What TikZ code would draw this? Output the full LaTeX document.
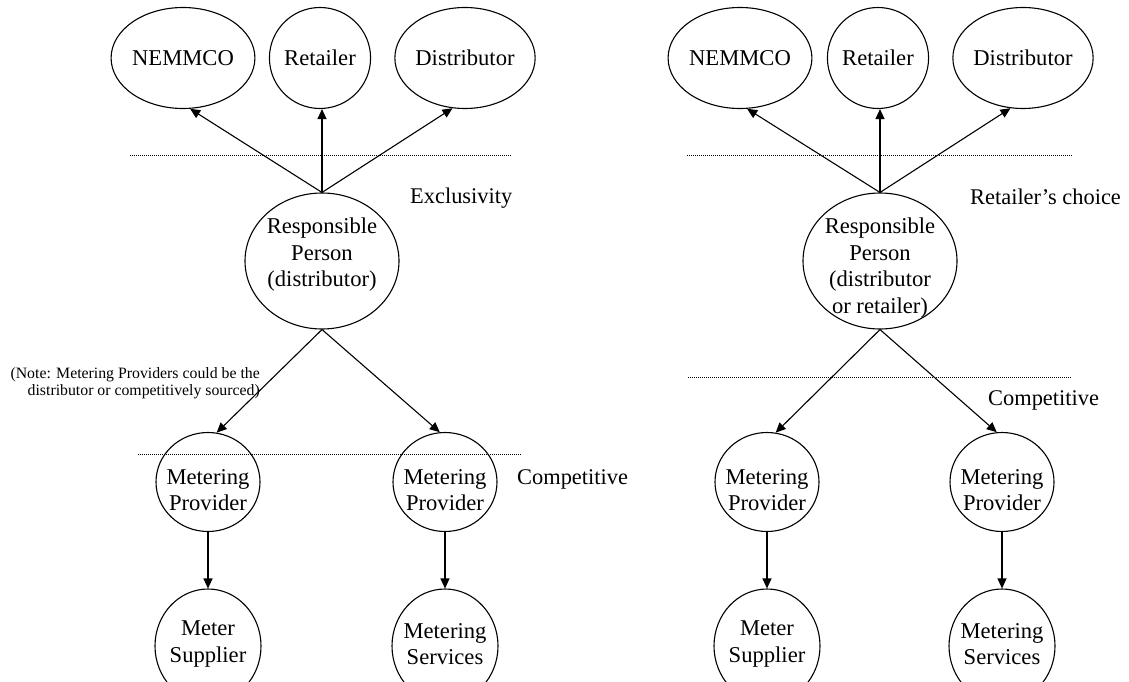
\documentclass[tikz,border=0pt]{standalone}
\usepackage{fontspec}
\setmainfont{Liberation Serif}
\usetikzlibrary{shapes.geometric,arrows.meta}
\begin{document}
\begin{tikzpicture}[x=1pt,y=-1pt,
  ell/.style={draw, ellipse, line width=1.1pt, inner sep=0pt, align=center, font=\fontsize{22.6}{26.5}\selectfont},
  topell/.style={ell, minimum width=101pt, minimum height=101pt},
  midell/.style={ell, minimum width=104pt, minimum height=99pt},
  lowell/.style={ell, minimum width=106pt, minimum height=114pt},
  rpell/.style={ell, minimum width=154pt, minimum height=136pt},
  txt/.style={inner sep=0pt, align=center, font=\fontsize{22.6}{26.5}\selectfont},
  lbl/.style={inner sep=0pt, anchor=west, font=\fontsize{22.4}{26}\selectfont},
  notetxt/.style={inner sep=0pt, anchor=east, align=right, font=\fontsize{15.8}{16.8}\selectfont},
  conn/.style={-{Triangle[length=10pt,width=9pt]}, line width=1.1pt},
  sep/.style={line width=0.9pt, dash pattern=on 1pt off 1pt},
]
\useasboundingbox (0,0) rectangle (1129,682);

% ---------- Left diagram ----------
\node[topell] (LN) at (183,58) {NEMMCO};
\node[topell] (LR) at (320,58) {Retailer};
\node[topell] (LD) at (465,58) {Distributor};
\node[rpell] (LRP) at (322,261) {};
\node[txt] (LRPt) at (322,255) {Responsible\\Person\\(distributor)};
\node[midell] (LP1) at (208,482) {};
\node[txt] (LP1t) at (208,490) {Metering\\Provider};
\node[midell] (LP2) at (445,482) {};
\node[txt] (LP2t) at (445,490) {Metering\\Provider};
\node[lowell] (LS1) at (208,646) {};
\node[txt] (LS1t) at (208,644) {Meter\\Supplier};
\node[lowell] (LS2) at (445,646) {};
\node[txt] (LS2t) at (445,644) {Metering\\Services};

\coordinate (LdA) at (130,155);
\coordinate (LdB) at (512,155);
\coordinate (LdC) at (138,454);
\coordinate (LdD) at (522,454);
\draw[sep] (LdA) -- (LdB);
\draw[sep] (LdC) -- (LdD);

\node[lbl] (LEx) at (410,198) {Exclusivity};
\node[lbl] (LComp) at (517,479) {Competitive};
\node[notetxt] (LNote) at (260,383) {(Note: Metering Providers could be the\\distributor or competitively sourced)};

\draw[conn] (LRP.north) -- (LN.-82);
\draw[conn] (LRP.north) -- (LRP.north |- LR.south);
\draw[conn] (LRP.north) -- (LD.-104);
\draw[conn] (LRP.south) -- (LP1.80);
\draw[conn] (LRP.south) -- (LP2.96);
\draw[conn] (LP1.south) -- (LS1.north);
\draw[conn] (LP2.south) -- (LS2.north);

% ---------- Right diagram ----------
\begin{scope}[xshift=558pt]
\node[topell] (RN) at (182,58) {NEMMCO};
\node[topell] (RR) at (320,58) {Retailer};
\node[topell] (RD) at (465,58) {Distributor};
\node[rpell] (RRP) at (322,261) {};
\node[txt] (RRPt) at (322,268) {Responsible\\Person\\(distributor\\or retailer)};
\node[midell] (RP1) at (209,482) {};
\node[txt] (RP1t) at (209,490) {Metering\\Provider};
\node[midell] (RP2) at (444,482) {};
\node[txt] (RP2t) at (444,490) {Metering\\Provider};
\node[lowell] (RS1) at (209,646) {};
\node[txt] (RS1t) at (209,644) {Meter\\Supplier};
\node[lowell] (RS2) at (444,646) {};
\node[txt] (RS2t) at (444,644) {Metering\\Services};

\coordinate (RdA) at (129,155);
\coordinate (RdB) at (514,155);
\coordinate (RdC) at (130,377);
\coordinate (RdD) at (514,377);
\draw[sep] (RdA) -- (RdB);
\draw[sep] (RdC) -- (RdD);

\node[lbl] (RCh) at (412,197) {Retailer’s choice};
\node[lbl] (RComp) at (430,400) {Competitive};

\draw[conn] (RRP.north) -- (RN.-82);
\draw[conn] (RRP.north) -- (RRP.north |- RR.south);
\draw[conn] (RRP.north) -- (RD.-104);
\draw[conn] (RRP.south) -- (RP1.80);
\draw[conn] (RRP.south) -- (RP2.96);
\draw[conn] (RP1.south) -- (RS1.north);
\draw[conn] (RP2.south) -- (RS2.north);
\end{scope}
\end{tikzpicture}
\end{document}
